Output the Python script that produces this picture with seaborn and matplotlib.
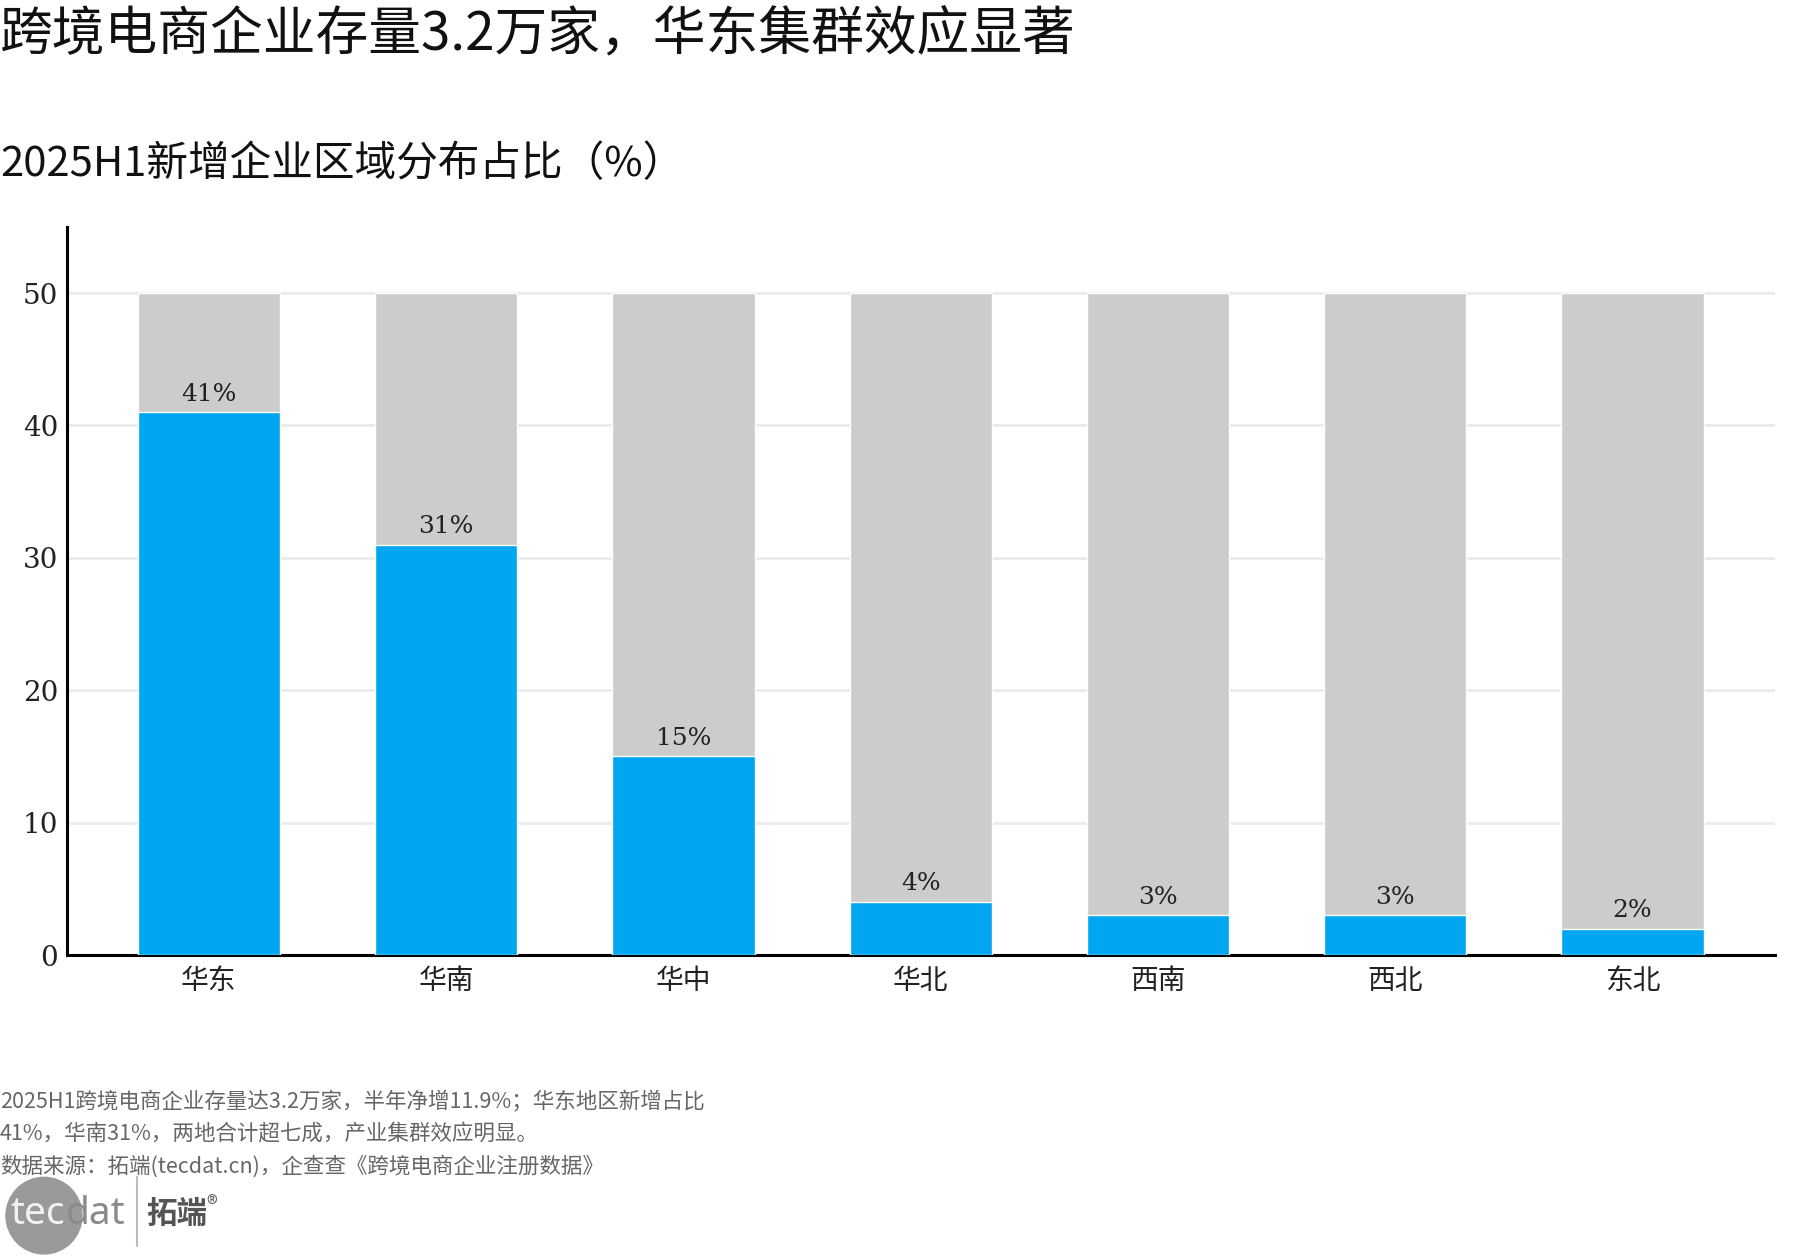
import matplotlib
matplotlib.use("Agg")
import matplotlib.pyplot as plt
from matplotlib.patches import Circle
import numpy as np
import pandas as pd
import seaborn as sns

regions = ["华东", "华南", "华中", "华北", "西南", "西北", "东北"]
share = [41, 31, 15, 4, 3, 3, 2]
full_scale = [50, 50, 50, 50, 50, 50, 50]
yticks = [0, 10, 20, 30, 40, 50]

title = "跨境电商企业存量3.2万家，华东集群效应显著"
subtitle = "2025H1新增企业区域分布占比（%）"
notes = [
    "2025H1跨境电商企业存量达3.2万家，半年净增11.9%；华东地区新增占比",
    "41%，华南31%，两地合计超七成，产业集群效应明显。",
    "数据来源：拓端(tecdat.cn)，企查查《跨境电商企业注册数据》",
]

BLUE = "#00a7f0"
GREY = "#cccccc"

sns.set_theme(style="white")
plt.rcParams["font.family"] = ["Noto Sans CJK SC", "DejaVu Sans"]

df = pd.DataFrame({"region": regions, "share": share, "full": full_scale})

fig = plt.figure(figsize=(18, 12.6), dpi=100)
ax = fig.add_axes([0.037, 0.242, 0.949, 0.578])

sns.barplot(data=df, x="region", y="full", color=GREY, width=0.6,
            saturation=1, ax=ax, zorder=2)
sns.barplot(data=df, x="region", y="share", color=BLUE, width=0.6,
            saturation=1, ax=ax, zorder=3)

for i, v in enumerate(share):
    ax.text(i, v + 0.5, f"{v}%", ha="center", va="bottom", fontsize=18,
            color="#222222", family=["DejaVu Serif"], zorder=4)

ax.set_xlim(-0.6, len(regions) - 0.4)
ax.set_ylim(0, 55)
ax.set_yticks(yticks)
ax.set_yticklabels([str(t) for t in yticks], family=["DejaVu Serif"])
ax.yaxis.grid(True, color="#ebebeb", linewidth=2, zorder=0)
ax.set_axisbelow(True)
ax.tick_params(axis="both", length=0, labelsize=20, colors="#222222")
ax.tick_params(axis="y", pad=6)
ax.tick_params(axis="x", pad=8)
ax.set_xlabel("")
ax.set_ylabel("")
sns.despine(ax=ax, top=True, right=True)
for s in ["left", "bottom"]:
    ax.spines[s].set_color("black")
    ax.spines[s].set_linewidth(2.2)

fig.text(0.0, 0.994, title, fontsize=38, va="top", ha="left", color="#111111")
fig.text(0.0, 0.886, subtitle, fontsize=30, va="top", ha="left", color="#111111")
for k, line in enumerate(notes):
    fig.text(0.0, 0.1255 - k * 0.0255, line, fontsize=15.5, va="center",
             ha="left", color="#666666")

# logo
logo = fig.add_axes([0.0, 0.0, 0.2, 0.08])
logo.set_xlim(0, 360)
logo.set_ylim(0, 100)
logo.axis("off")
logo.add_patch(Circle((44, 44), 38, color="#9a9a9a", zorder=1))
logo.text(10, 46, "tec", fontsize=28, color="#f2f2f2", va="center", ha="left",
          family=["Noto Sans"], zorder=2)
logo.text(66, 46, "dat", fontsize=28, color="#8a8a8a", va="center", ha="left",
          family=["Noto Sans"], zorder=2)
logo.plot([137, 137], [14, 82], color="#bbbbbb", linewidth=1.5)
logo.text(146, 46, "拓端", fontsize=22, color="#555555", va="center", ha="left",
          fontweight="bold")
logo.text(206, 54, "®", fontsize=16, color="#555555", va="center", ha="left")

fig.savefig("out.png", dpi=100, facecolor="white")
